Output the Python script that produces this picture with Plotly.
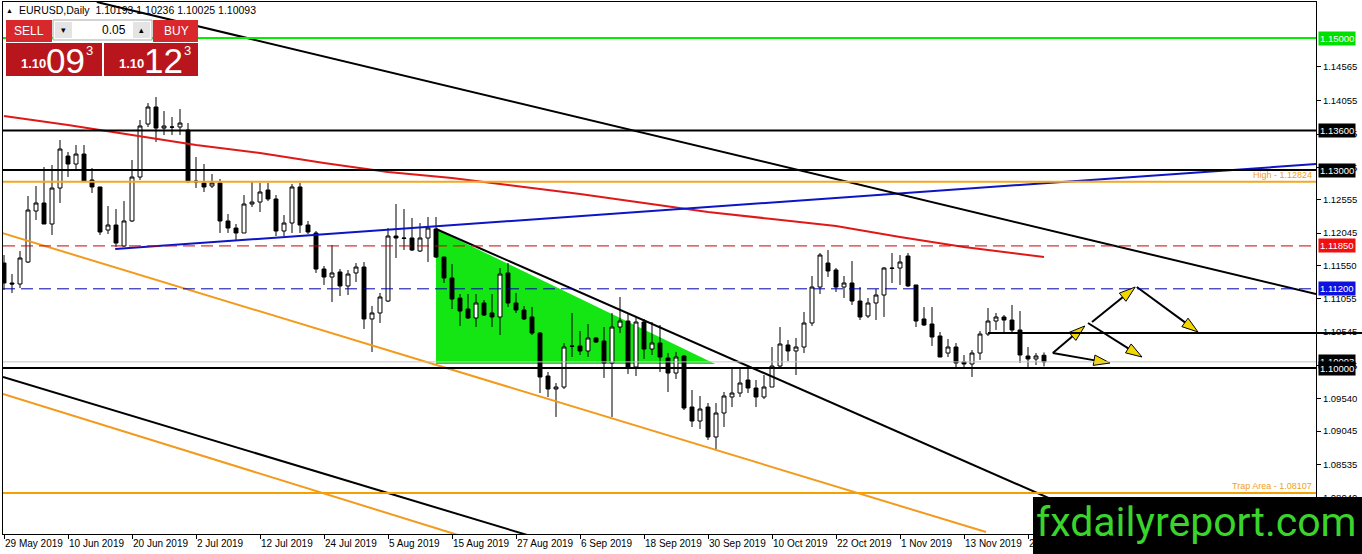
import pandas as pd
import plotly.graph_objects as go

# daily EURUSD bars (29 May 2019 .. 27 Nov 2019)
dates = pd.bdate_range("2019-05-29", periods=131)

opens = [1.11591, 1.11288, 1.11273, 1.11606, 1.12379, 1.12500, 1.12182, 1.12727, 1.13212, 1.13091,
         1.13242, 1.12849, 1.12743, 1.12091, 1.12167, 1.11849, 1.12228, 1.12894, 1.13697, 1.13955,
         1.13636, 1.13652, 1.13652, 1.13606, 1.12834, 1.12803, 1.12758, 1.12803, 1.12228, 1.12121,
         1.12046, 1.12485, 1.12515, 1.12697, 1.12561, 1.12076, 1.12197, 1.12743, 1.12167, 1.12046,
         1.11500, 1.11379, 1.11455, 1.11243, 1.11440, 1.11530, 1.10743, 1.10834, 1.11015, 1.12000,
         1.11970, 1.11970, 1.11773, 1.11970, 1.12106, 1.11682, 1.11364, 1.11061, 1.10894, 1.10758,
         1.10985, 1.10834, 1.10773, 1.11440, 1.10985, 1.10879, 1.10773, 1.10530, 1.09879, 1.09682,
         1.09712, 1.10334, 1.10334, 1.10258, 1.10455, 1.10409, 1.10076, 1.10621, 1.10712, 1.10015,
         1.10697, 1.10288, 1.10379, 1.10152, 1.09924, 1.10182, 1.09409, 1.09197, 1.09409, 1.08955,
         1.09318, 1.09561, 1.09621, 1.09818, 1.09697, 1.09561, 1.09712, 1.10030, 1.10349, 1.10258,
         1.10318, 1.10682, 1.11227, 1.11591, 1.11485, 1.11227, 1.11288, 1.11015, 1.10788, 1.10985,
         1.11106, 1.11515, 1.11515, 1.11697, 1.11258, 1.10743, 1.10667, 1.10485, 1.10227, 1.10318,
         1.10091, 1.10061, 1.10227, 1.10515, 1.10712, 1.10773, 1.10727, 1.10576, 1.10182, 1.10137,
         1.10193]
highs = [1.11712, 1.11424, 1.11773, 1.12606, 1.12758, 1.13046, 1.13076, 1.13455, 1.13273, 1.13379,
         1.13379, 1.13030, 1.12743, 1.12455, 1.12409, 1.12530, 1.13152, 1.13758, 1.14015, 1.14106,
         1.13894, 1.13803, 1.13924, 1.13712, 1.13197, 1.13091, 1.12940, 1.12864, 1.12334, 1.12182,
         1.12621, 1.12834, 1.12803, 1.12803, 1.12621, 1.12318, 1.12788, 1.12803, 1.12228, 1.12076,
         1.11546, 1.11864, 1.11500, 1.11485, 1.11591, 1.11606, 1.10940, 1.11137, 1.12121, 1.12485,
         1.12409, 1.12273, 1.12197, 1.12288, 1.12288, 1.11682, 1.11576, 1.11121, 1.11121, 1.11121,
         1.11030, 1.11121, 1.11515, 1.11591, 1.11137, 1.10940, 1.10924, 1.10546, 1.09940, 1.09773,
         1.10379, 1.10834, 1.10561, 1.10667, 1.10470, 1.10621, 1.10834, 1.11076, 1.10834, 1.10773,
         1.10743, 1.10697, 1.10652, 1.10227, 1.10243, 1.10197, 1.09667, 1.09576, 1.09470, 1.09470,
         1.09637, 1.10000, 1.10000, 1.10000, 1.09818, 1.09894, 1.10318, 1.10621, 1.10424, 1.10455,
         1.10849, 1.11394, 1.11743, 1.11788, 1.11515, 1.11394, 1.11621, 1.11227, 1.11061, 1.11197,
         1.11530, 1.11743, 1.11712, 1.11743, 1.11258, 1.10924, 1.10924, 1.10546, 1.10440, 1.10379,
         1.10197, 1.10273, 1.10561, 1.10909, 1.10834, 1.10803, 1.10955, 1.10864, 1.10318, 1.10227,
         1.10236]
lows = [1.11182, 1.11137, 1.11212, 1.11591, 1.12243, 1.12182, 1.12015, 1.12500, 1.12894, 1.13000,
        1.12834, 1.12652, 1.12015, 1.12030, 1.11834, 1.11834, 1.12212, 1.12849, 1.13652, 1.13424,
        1.13530, 1.13530, 1.13530, 1.12803, 1.12727, 1.12667, 1.12727, 1.12046, 1.12046, 1.11940,
        1.12046, 1.12440, 1.12364, 1.12530, 1.12000, 1.12000, 1.12046, 1.12046, 1.12030, 1.11440,
        1.11258, 1.11000, 1.11091, 1.11106, 1.11303, 1.10591, 1.10243, 1.10682, 1.11000, 1.11667,
        1.11788, 1.11773, 1.11758, 1.11606, 1.11667, 1.11288, 1.10894, 1.10637, 1.10743, 1.10621,
        1.10788, 1.10621, 1.10500, 1.10924, 1.10834, 1.10727, 1.10500, 1.09621, 1.09561, 1.09258,
        1.09682, 1.10167, 1.10197, 1.10167, 1.10379, 1.09849, 1.09258, 1.10530, 1.09909, 1.09879,
        1.10137, 1.10197, 1.09940, 1.09637, 1.09834, 1.09364, 1.09106, 1.09076, 1.08909, 1.08773,
        1.09106, 1.09409, 1.09561, 1.09621, 1.09409, 1.09530, 1.09712, 1.10015, 1.10106, 1.09894,
        1.10227, 1.10637, 1.11121, 1.11379, 1.11152, 1.11061, 1.10955, 1.10727, 1.10758, 1.10727,
        1.10773, 1.11288, 1.11258, 1.11227, 1.10621, 1.10637, 1.10334, 1.10167, 1.10167, 1.10015,
        1.10015, 1.09864, 1.10121, 1.10485, 1.10576, 1.10546, 1.10530, 1.10076, 1.10015, 1.10046,
        1.10025]
closes = [1.11288, 1.11273, 1.11667, 1.12394, 1.12500, 1.12182, 1.12727, 1.13318, 1.13091, 1.13242,
          1.12834, 1.12743, 1.12061, 1.12167, 1.11894, 1.12228, 1.12894, 1.13667, 1.13955, 1.13636,
          1.13667, 1.13650, 1.13712, 1.12834, 1.12818, 1.12743, 1.12803, 1.12228, 1.12121, 1.12046,
          1.12485, 1.12515, 1.12667, 1.12561, 1.12076, 1.12197, 1.12743, 1.12167, 1.12061, 1.11500,
          1.11379, 1.11440, 1.11243, 1.11424, 1.11530, 1.10743, 1.10834, 1.11076, 1.12000, 1.11970,
          1.11965, 1.11788, 1.11970, 1.12121, 1.11682, 1.11364, 1.11046, 1.10864, 1.10758, 1.10985,
          1.10803, 1.10773, 1.11424, 1.10985, 1.10879, 1.10743, 1.10530, 1.09864, 1.09682, 1.09712,
          1.10318, 1.10330, 1.10258, 1.10455, 1.10394, 1.10076, 1.10621, 1.10712, 1.10015, 1.10697,
          1.10288, 1.10379, 1.10167, 1.09924, 1.10167, 1.09394, 1.09197, 1.09379, 1.08955, 1.09318,
          1.09576, 1.09621, 1.09773, 1.09697, 1.09561, 1.09712, 1.10030, 1.10364, 1.10258, 1.10318,
          1.10682, 1.11227, 1.11712, 1.11470, 1.11227, 1.11288, 1.11015, 1.10773, 1.10985, 1.11106,
          1.11515, 1.11510, 1.11606, 1.11243, 1.10712, 1.10652, 1.10470, 1.10167, 1.10318, 1.10076,
          1.10061, 1.10227, 1.10515, 1.10712, 1.10773, 1.10727, 1.10576, 1.10197, 1.10137, 1.10182,
          1.10093]
bars = list(range(len(dates)))

# moving average (red), sampled every 8 bars
ma_bars = [0, 8, 16, 24, 32, 40, 48, 56, 64, 72, 80, 88, 96, 104, 112, 120, 130]
ma_values = [1.13818, 1.13682, 1.13530, 1.13379, 1.13258, 1.13106, 1.12970, 1.12879, 1.12758,
             1.12637, 1.12500, 1.12364, 1.12258, 1.12152, 1.11985, 1.11834, 1.11682]

# trend lines, as (bar, price) end points
blue_x, blue_y = [13.9, 164], [1.11803, 1.13091]
black_top_x, black_top_y = [11.6, 164], [1.15546, 1.11121]
black_fall_x, black_fall_y = [54, 135], [1.12106, 1.07795]
black_low_x, black_low_y = [-0.125, 65.4], [1.09864, 1.07470]
orange_up_x, orange_up_y = [-0.25, 122.75], [1.12046, 1.07515]
orange_low_x, orange_low_y = [-0.125, 56.75], [1.09606, 1.07470]
triangle_x, triangle_y = [54, 54, 88.9], [1.12106, 1.10061, 1.10061]

# projected path arrows
arrow_x0 = [131.1, 131.1, 135.5, 136.0, 141.6]
arrow_y0 = [1.10227, 1.10227, 1.10682, 1.10697, 1.11227]
arrow_x1 = [138.25, 135.1, 142.25, 141.4, 149.25]
arrow_y1 = [1.10076, 1.10637, 1.10167, 1.11227, 1.10546]

# horizontal levels
target_level = 1.15000
black_levels = [1.13600, 1.13000, 1.10000]
high_level = 1.12824
red_level = 1.11850
blue_level = 1.11200
trap_level = 1.08107
short_level, short_from = 1.10530, 123
bid = closes[-1]
ask = 1.10123

price_ticks = [1.14565, 1.14055, 1.13545, 1.13035, 1.12555, 1.12045, 1.11550, 1.11055,
               1.10545, 1.10035, 1.09540, 1.09045, 1.08535, 1.08040]

X0, X1 = -0.125, 164
Y0, Y1 = 1.07485, 1.15546
W, H = 1362, 554
L, T, R, B = 3, 2, 1316, 534
FONT = "Liberation Sans, Arial, sans-serif"


def px(x):
    return (x - L) / (R - L)


def py(y):
    return 1 - (y - T) / (B - T)


fig = go.Figure()

fig.add_trace(go.Candlestick(
    x=bars, open=opens, high=highs, low=lows, close=closes, whiskerwidth=0,
    increasing=dict(fillcolor="white", line=dict(color="black", width=1)),
    decreasing=dict(fillcolor="black", line=dict(color="black", width=1))))

lines = [
    (ma_bars, ma_values, "#e01818", 2),
    (blue_x, blue_y, "#0c14c4", 2),
    (black_top_x, black_top_y, "black", 2),
    (black_fall_x, black_fall_y, "black", 2),
    (black_low_x, black_low_y, "black", 2),
    (orange_up_x, orange_up_y, "#f39a1c", 2),
    (orange_low_x, orange_low_y, "#f39a1c", 2),
]
for lx, ly, c, w in lines:
    fig.add_trace(go.Scatter(x=lx, y=ly, mode="lines", line=dict(color=c, width=w)))

for i in range(len(arrow_x0)):
    fig.add_trace(go.Scatter(
        x=[arrow_x0[i], arrow_x1[i]], y=[arrow_y0[i], arrow_y1[i]], mode="lines+markers",
        line=dict(color="black", width=2),
        marker=dict(symbol="arrow", size=[0, 17], angleref="previous", color="#f2d600",
                    opacity=[0, 1], line=dict(color="black", width=1))))

# green triangle behind the candles
shapes = [dict(type="path", xref="x", yref="y", layer="below", fillcolor="#14e614",
               line=dict(width=0),
               path="M " + " L ".join("%s,%s" % p for p in zip(triangle_x, triangle_y)) + " Z")]


def hline(y, color, width, dash="solid", x0=0, x1=1):
    shapes.append(dict(type="line", xref="paper", yref="y", x0=x0, x1=x1, y0=y, y1=y,
                       line=dict(color=color, width=width, dash=dash), layer="above"))


hline(bid, "#c4c4c4", 1)
hline(target_level, "#00ee00", 2)
for lv in black_levels:
    hline(lv, "black", 2)
hline(high_level, "#f5a623", 2)
hline(red_level, "#d00000", 1, "12px,6px")
hline(blue_level, "#0000a8", 1, "12px,6px")
hline(trap_level, "#f5a000", 2)
hline(short_level, "black", 2, x0=(short_from - X0) / (X1 - X0), x1=px(W))

# one-click trading panel
def rect(x0, y0, x1, y1, fill, line=None):
    shapes.append(dict(type="rect", xref="paper", yref="paper", x0=px(x0), x1=px(x1),
                       y0=py(y1), y1=py(y0), fillcolor=fill, layer="above",
                       line=dict(width=1 if line else 0, color=line or fill)))


rect(6, 20, 52, 42, "#d8282c")
rect(153, 20, 198, 42, "#d8282c")
rect(6, 43, 102, 76, "#b8161c")
rect(104, 43, 198, 76, "#b8161c")
rect(53, 20, 152, 40, "white", "#a8a8a8")
rect(55, 22, 72, 38, "#e4e4e4")
rect(133, 22, 150, 38, "#e4e4e4")
# logo
rect(1033, 497, W, H, "black")

annotations = []


def text(x, y, s, size, color="white", anchor="center", family=FONT):
    annotations.append(dict(xref="paper", yref="paper", x=px(x), y=py(y), text=s,
                            showarrow=False, xanchor=anchor, yanchor="middle",
                            font=dict(family=family, size=size, color=color)))


text(9, 10, "▲", 7, "black")
text(17, 10, "EURUSD,Daily  %.5f %.5f %.5f %.5f" % (opens[-1], highs[-1], lows[-1], closes[-1]),
     10.5, "black", "left")
text(29, 31, "SELL", 12)
text(176, 31, "BUY", 12)
text(63, 30, "▾", 9, "black")
text(141, 30, "▴", 9, "black")
text(128, 30, "0.05", 12, "black", "right")

for x0, price in [(6, bid), (104, ask)]:
    s = "%.5f" % price
    text(x0 + 27, 64, "<b>%s</b>" % s[:4], 13)
    text(x0 + 59, 60, s[4:6], 35)
    text(x0 + 83, 51, s[6], 13)

text(1196, 522, "fxdailyreport.com", 41, "#3ad42c", family="Roboto, Liberation Sans, sans-serif")

for val, s in [(high_level, "High - %.5f"), (trap_level, "Trap Area - %.5f")]:
    annotations.append(dict(xref="paper", yref="y", x=1, y=val, xanchor="right", yanchor="bottom",
                            xshift=-2, text=s % val, showarrow=False,
                            font=dict(family=FONT, size=9, color="#f0a020")))

for val, bg in [(target_level, "#00e000"), (black_levels[0], "black"), (black_levels[1], "black"),
                (red_level, "#f01010"), (blue_level, "#1010e0"), (bid, "black"),
                (black_levels[2], "black")]:
    annotations.append(dict(xref="paper", yref="y", x=1, y=val, xanchor="left", xshift=2,
                            text="%.5f" % val, showarrow=False, bgcolor=bg, borderpad=1,
                            font=dict(family=FONT, size=9.5, color="white")))

tick_bars = bars[::8]
tick_text = [dates[i].strftime("%-d %b %Y") for i in tick_bars]

fig.update_layout(
    width=W, height=H, margin=dict(l=L, r=W - R, t=T, b=H - B),
    paper_bgcolor="white", plot_bgcolor="white", showlegend=False,
    shapes=shapes, annotations=annotations,
    font=dict(family=FONT, size=10, color="black"),
    xaxis=dict(range=[X0, X1], showgrid=False, zeroline=False, rangeslider=dict(visible=False),
               tickvals=tick_bars, ticktext=tick_text, ticks="outside", ticklen=4,
               tickcolor="black", ticklabelposition="outside right", tickangle=0,
               tickfont=dict(size=10),
               showline=True, linecolor="black", mirror=True, linewidth=1),
    yaxis=dict(range=[Y0, Y1], side="right", showgrid=False, zeroline=False,
               tickvals=price_ticks, ticktext=["%.5f" % v for v in price_ticks],
               ticks="outside", ticklen=4, tickcolor="black", tickfont=dict(size=9.5),
               showline=True, linecolor="black", mirror=True, linewidth=1),
)

fig.write_html("out.html", config={"displayModeBar": False},
               post_script="document.body.style.margin='0';")
